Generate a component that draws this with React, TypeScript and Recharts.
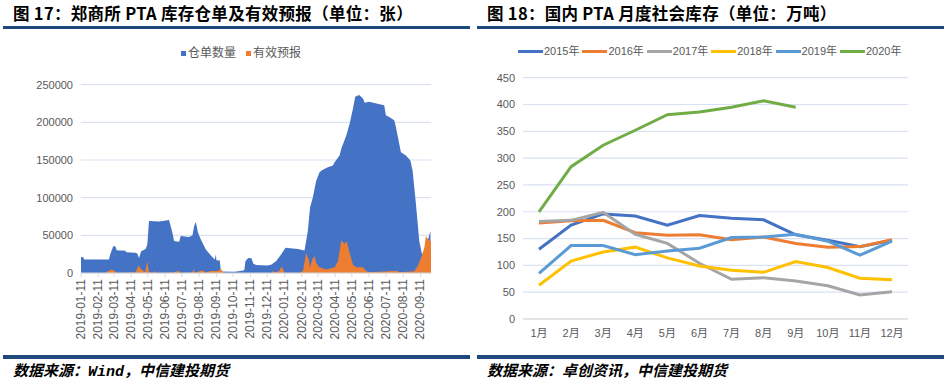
import React from 'react'
import { AreaChart, Area, LineChart, Line, XAxis, YAxis, CartesianGrid } from 'recharts'

// 图17: warehouse receipts and valid forecasts (daily at turning points)
const receiptPoints: [string, number][] = [
  ['2019-01-11', 21400], ['2019-01-15', 21000], ['2019-01-17', 17800], ['2019-03-02', 17800],
  ['2019-03-05', 26000], ['2019-03-10', 35700], ['2019-03-14', 35000], ['2019-03-16', 30300],
  ['2019-04-01', 29500], ['2019-04-02', 27600], ['2019-04-18', 27000], ['2019-04-22', 25900],
  ['2019-04-25', 20000], ['2019-04-29', 29000], ['2019-05-07', 32000], ['2019-05-10', 38000],
  ['2019-05-13', 69000], ['2019-05-31', 68500], ['2019-06-18', 70500], ['2019-06-24', 53500],
  ['2019-06-27', 42400], ['2019-07-06', 41500], ['2019-07-09', 49000], ['2019-07-24', 47700],
  ['2019-07-30', 50000], ['2019-08-02', 62400], ['2019-08-05', 67800], ['2019-08-09', 53500],
  ['2019-08-14', 44600], ['2019-08-23', 31200], ['2019-09-01', 23200], ['2019-09-08', 17800],
  ['2019-09-10', 24500], ['2019-09-11', 17000], ['2019-09-17', 16500], ['2019-09-19', 2000],
  ['2019-10-13', 1800], ['2019-10-24', 2700], ['2019-10-31', 3500], ['2019-11-02', 15600],
  ['2019-11-07', 20000], ['2019-11-13', 19600], ['2019-11-16', 12500], ['2019-11-21', 10500],
  ['2019-12-11', 9800], ['2019-12-18', 11100], ['2019-12-27', 15600], ['2020-01-05', 24500],
  ['2020-01-13', 33400], ['2020-02-04', 32000], ['2020-02-16', 30000], ['2020-02-22', 55700],
  ['2020-02-26', 87000], ['2020-03-02', 100300], ['2020-03-08', 122600], ['2020-03-14', 133700],
  ['2020-03-19', 136800], ['2020-03-29', 140400], ['2020-04-07', 142600], ['2020-04-10', 147000],
  ['2020-04-19', 156000], ['2020-04-22', 164900], ['2020-05-01', 182700], ['2020-05-07', 198300],
  ['2020-05-13', 218400], ['2020-05-17', 234000], ['2020-05-24', 236200], ['2020-05-31', 231800],
  ['2020-06-03', 226000], ['2020-06-11', 227300], ['2020-06-24', 225100], ['2020-07-08', 222800],
  ['2020-07-11', 209500], ['2020-07-17', 207200], ['2020-07-26', 202800], ['2020-07-29', 193900],
  ['2020-08-07', 160400], ['2020-08-16', 156000], ['2020-08-24', 149300], ['2020-08-28', 135900],
  ['2020-09-03', 91400], ['2020-09-09', 42300], ['2020-09-14', 24500], ['2020-09-18', 29000],
  ['2020-09-24', 42300], ['2020-09-29', 55700],
]

const forecastPoints: [string, number][] = [
  ['2019-01-11', 0], ['2019-02-24', 0], ['2019-02-27', 2000], ['2019-03-07', 4500],
  ['2019-03-14', 2000], ['2019-03-15', 0], ['2019-04-19', 500], ['2019-04-24', 9800],
  ['2019-04-29', 5000], ['2019-05-06', 1000], ['2019-05-10', 15600], ['2019-05-13', 500],
  ['2019-05-21', 0], ['2019-05-23', 3100], ['2019-05-26', 0], ['2019-06-18', 0],
  ['2019-06-20', 1500], ['2019-06-22', 0], ['2019-07-05', 3000], ['2019-07-08', 0],
  ['2019-07-30', 500], ['2019-08-01', 5400], ['2019-08-03', 0], ['2019-08-13', 3000],
  ['2019-08-20', 3000], ['2019-08-22', 0], ['2019-08-31', 2500], ['2019-09-13', 2500],
  ['2019-09-19', 5400], ['2019-09-24', 0], ['2019-12-19', 0], ['2019-12-21', 3000],
  ['2019-12-24', 0], ['2020-01-02', 3000], ['2020-01-05', 7500], ['2020-01-08', 6700],
  ['2020-01-11', 0], ['2020-02-07', 0], ['2020-02-10', 2000], ['2020-02-13', 2000],
  ['2020-02-19', 26700], ['2020-02-24', 16500], ['2020-02-26', 7600], ['2020-03-02', 20000],
  ['2020-03-05', 22300], ['2020-03-08', 13400], ['2020-03-14', 7600], ['2020-03-26', 4500],
  ['2020-04-10', 7600], ['2020-04-16', 15600], ['2020-04-22', 43200], ['2020-04-28', 38800],
  ['2020-05-02', 42300], ['2020-05-07', 26700], ['2020-05-13', 11100], ['2020-05-19', 7600],
  ['2020-05-31', 7600], ['2020-06-06', 2200], ['2020-06-11', 1000], ['2020-08-01', 3000],
  ['2020-08-04', 1000], ['2020-08-31', 2200], ['2020-09-06', 8900], ['2020-09-12', 20000],
  ['2020-09-18', 33400], ['2020-09-21', 49000], ['2020-09-25', 44600], ['2020-09-30', 42300],
]

const dateTicks = [
  '2019-01-11', '2019-02-11', '2019-03-11', '2019-04-11', '2019-05-11', '2019-06-11', '2019-07-11',
  '2019-08-11', '2019-09-11', '2019-10-11', '2019-11-11', '2019-12-11', '2020-01-11', '2020-02-11',
  '2020-03-11', '2020-04-11', '2020-05-11', '2020-06-11', '2020-07-11', '2020-08-11', '2020-09-11',
]
const stockTicks = [0, 50000, 100000, 150000, 200000, 250000]

// 图18: monthly social inventory, 万吨
const months = ['1月', '2月', '3月', '4月', '5月', '6月', '7月', '8月', '9月', '10月', '11月', '12月']
const y2015 = [130, 175, 196, 192, 175, 193, 188, 185, 157, 147, 135, 147]
const y2016 = [179, 183, 184, 161, 156, 157, 148, 153, 141, 134, 135, 148]
const y2017 = [182, 184, 199, 158, 141, 104, 74, 77, 71, 62, 45, 51]
const y2018 = [63, 108, 125, 134, 114, 99, 91, 87, 107, 96, 76, 73]
const y2019 = [85, 137, 137, 120, 127, 132, 152, 153, 158, 145, 119, 145]
const y2020 = [200, 284, 324, 352, 381, 386, 395, 407, 395]
const yearNames = ['2015年', '2016年', '2017年', '2018年', '2019年', '2020年']
const yearColors = ['#4472C4', '#ED7D31', '#A5A5A5', '#FFC000', '#5B9BD5', '#70AD47']
const inventoryTicks = [0, 50, 100, 150, 200, 250, 300, 350, 400, 450]

const BASE = Date.parse('2019-01-11')
const dayOf = (s: string) => Math.round((Date.parse(s) - BASE) / 86400000)
const labelOf = (d: number) => new Date(BASE + d * 86400000).toISOString().slice(0, 10)

const areaRows = (() => {
  const rows = new Map<number, any>()
  receiptPoints.forEach(([s, v]) => {
    const d = dayOf(s)
    rows.set(d, { ...(rows.get(d) || { d }), receipt: v })
  })
  forecastPoints.forEach(([s, v]) => {
    const d = dayOf(s)
    rows.set(d, { ...(rows.get(d) || { d }), forecast: v })
  })
  return [...rows.values()].sort((a, b) => a.d - b.d)
})()

const lineRows = months.map((m, i) => {
  const row: any = { month: m }
  ;[y2015, y2016, y2017, y2018, y2019, y2020].forEach((arr, k) => {
    if (arr[i] !== undefined) row[yearNames[k]] = arr[i]
  })
  return row
})

const AXIS_FONT = '"Liberation Sans", Arial, "Noto Sans CJK SC", sans-serif'
const NARROW_FONT = '"Liberation Sans Narrow", "Arial Narrow", "Liberation Sans", "Noto Sans CJK SC", sans-serif'
const TITLE_FONT = '"Noto Sans CJK SC", sans-serif'
const SOURCE_FONT = '"Liberation Mono", "Noto Sans CJK SC", monospace'
const RULE = '#1F497D'

const DateTick = ({ x, y, payload }: any) => (
  <text
    x={x}
    y={y}
    transform={`rotate(-90, ${x}, ${y})`}
    textAnchor="end"
    dominantBaseline="central"
    fontSize={12}
    fontFamily={AXIS_FONT}
    fill="#595959"
  >
    {labelOf(payload.value)}
  </text>
)

function Panel({ left, title, source }: { left: number; title: string; source: string }) {
  return (
    <>
      <div style={{ position: 'absolute', left: left + 13, top: 3, fontFamily: TITLE_FONT, fontWeight: 700, fontSize: 16.5, letterSpacing: 0.3, color: '#000', whiteSpace: 'nowrap', lineHeight: '20px' }}>
        {title}
      </div>
      <div style={{ position: 'absolute', left: left + 3, top: 26, width: 467, height: 3, background: RULE }} />
      <div style={{ position: 'absolute', left: left + 3, top: 355, width: 467, height: 4, background: RULE }} />
      <div style={{ position: 'absolute', left: left + 13, top: 363, fontFamily: SOURCE_FONT, fontStyle: 'italic', fontWeight: 700, fontSize: 15, color: '#000', whiteSpace: 'nowrap', lineHeight: '20px' }}>
        {source}
      </div>
    </>
  )
}

export default function App() {
  return (
    <div style={{ position: 'absolute', left: 0, top: 0, width: 947, height: 385, background: '#fff', overflow: 'hidden' }}>
      <Panel left={0} title="图 17：郑商所 PTA 库存仓单及有效预报（单位：张）" source="数据来源：Wind，中信建投期货" />
      <Panel left={474} title="图 18：国内 PTA 月度社会库存（单位：万吨）" source="数据来源：卓创资讯，中信建投期货" />

      {/* left legend */}
      <div style={{ position: 'absolute', left: 181, top: 45, display: 'flex', alignItems: 'center', fontFamily: AXIS_FONT, fontSize: 12, color: '#595959', lineHeight: '16px', whiteSpace: 'nowrap' }}>
        <span style={{ width: 5, height: 5, background: '#4472C4', marginRight: 2 }} />
        <span style={{ marginRight: 10 }}>仓单数量</span>
        <span style={{ width: 5, height: 5, background: '#ED7D31', marginRight: 2 }} />
        <span>有效预报</span>
      </div>

      {/* right legend */}
      <div style={{ position: 'absolute', left: 518, top: 43, display: 'flex', alignItems: 'center', fontFamily: NARROW_FONT, fontSize: 11, color: '#595959', lineHeight: '16px', whiteSpace: 'nowrap' }}>
        {yearNames.map((n, i) => (
          <div key={n} style={{ display: 'flex', alignItems: 'center', width: 64.4, flexShrink: 0 }}>
            <span style={{ width: 25, height: 3, background: yearColors[i], marginRight: 1, flexShrink: 0 }} />
            <span>{n}</span>
          </div>
        ))}
      </div>

      <div style={{ position: 'absolute', left: 0, top: 0 }}>
        <AreaChart width={470} height={355} data={areaRows} margin={{ top: 84.7, right: 39, bottom: 2, left: 0 }}>
          <CartesianGrid vertical={false} stroke="#D9E1F2" strokeWidth={1.2} />
          <XAxis
            dataKey="d"
            type="number"
            domain={[0, dayOf('2020-09-30')]}
            ticks={dateTicks.map(dayOf)}
            interval={0}
            height={80}
            axisLine={{ stroke: '#D9D9D9' }}
            tickLine={{ stroke: '#D9D9D9' }}
            tickSize={4}
            tick={<DateTick />}
          />
          <YAxis
            type="number"
            domain={[0, 250000]}
            ticks={stockTicks}
            width={81}
            axisLine={false}
            tickLine={false}
            tick={{ fontSize: 11, fill: '#595959', fontFamily: AXIS_FONT }}
          />
          <Area type="linear" dataKey="receipt" connectNulls stroke="none" fill="#4472C4" fillOpacity={1} isAnimationActive={false} />
          <Area type="linear" dataKey="forecast" connectNulls stroke="none" fill="#ED7D31" fillOpacity={1} isAnimationActive={false} />
        </AreaChart>
      </div>

      <div style={{ position: 'absolute', left: 475, top: 0 }}>
        <LineChart width={472} height={355} data={lineRows} margin={{ top: 77.7, right: 39, bottom: 6, left: 0 }}>
          <CartesianGrid vertical={false} stroke="#D9E1F2" strokeWidth={1.2} />
          <XAxis
            dataKey="month"
            padding={{ left: 16, right: 16 }}
            height={30}
            axisLine={{ stroke: '#D9D9D9' }}
            tickLine={false}
            tickMargin={4}
            interval={0}
            tick={{ fontSize: 11, fill: '#595959', fontFamily: NARROW_FONT }}
          />
          <YAxis
            domain={[0, 450]}
            ticks={inventoryTicks}
            width={48}
            axisLine={false}
            tickLine={false}
            tick={{ fontSize: 11, fill: '#595959', fontFamily: NARROW_FONT }}
          />
          {yearNames.map((n, i) => (
            <Line key={n} type="linear" dataKey={n} stroke={yearColors[i]} strokeWidth={3} dot={false} isAnimationActive={false} />
          ))}
        </LineChart>
      </div>
    </div>
  )
}
